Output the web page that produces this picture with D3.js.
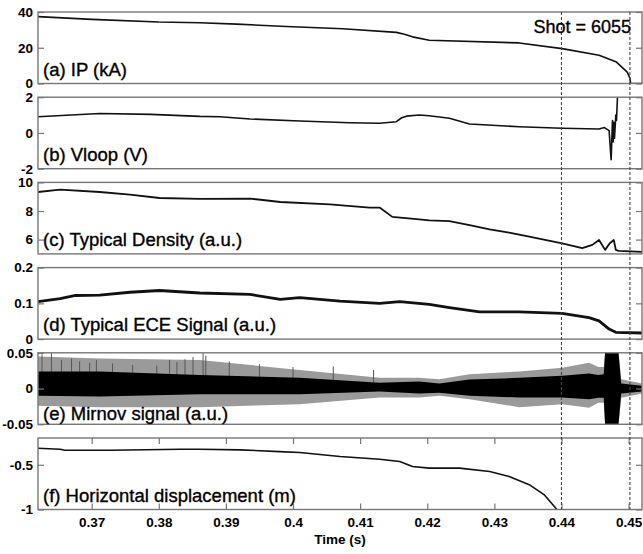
<!DOCTYPE html>
<html>
<head>
<meta charset="utf-8">
<script src="https://cdnjs.cloudflare.com/ajax/libs/d3/7.8.5/d3.min.js"></script>
<style>
  body { margin: 0; background: #fff; }
  svg { display: block; font-family: Arial, "Liberation Sans", sans-serif; }
  .tick text { font-size: 13.5px; font-weight: bold; fill: #000; }
  .tick line { stroke: #777; stroke-width: 1.2; }
  .panel-label { font-size: 18.5px; fill: #000; stroke: #000; stroke-width: 0.35px; }
</style>
</head>
<body>
<div id="chart"></div>
<script>
// time axis
var timeTicks = [0.37, 0.38, 0.39, 0.40, 0.41, 0.42, 0.43, 0.44, 0.45];
var markerTimes = [0.44, 0.4502];

// (a) plasma current, kA
var ipTime = [0.362, 0.370, 0.380, 0.3861, 0.3916, 0.399, 0.4074, 0.4154, 0.4166, 0.4178, 0.4203,
  0.4337, 0.4401, 0.4456, 0.4482, 0.4498, 0.4502, 0.4503, 0.452];
var ipValue = [37.4, 35.9, 34.4, 34.0, 33.2, 31.9, 30.6, 28.6, 27.5, 26.1, 24.2,
  22.7, 19.5, 15.8, 12.0, 6.4, 3.0, 0, 0];

// (b) loop voltage, V
var vloopTime = [0.362, 0.3712, 0.3788, 0.3861, 0.3891, 0.3936, 0.401, 0.4084, 0.4129, 0.4154, 0.4162,
  0.4169, 0.4188, 0.4203, 0.4233, 0.4263, 0.4337, 0.4401, 0.4456, 0.4464, 0.4471, 0.4474, 0.4476,
  0.4477, 0.4478, 0.4479, 0.4481, 0.4482, 0.4484];
var vloopValue = [0.91, 1.09, 1.04, 0.93, 0.91, 0.78, 0.67, 0.57, 0.54, 0.63, 0.85,
  0.94, 1.0, 0.96, 0.82, 0.5, 0.35, 0.26, 0.22, 0.3, 0.13, -1.5, 0.7,
  -0.5, 0.6, -0.3, 1.0, 0.7, 2.5];

// (c) typical density, a.u.
var densTime = [0.362, 0.3653, 0.3712, 0.3757, 0.3801, 0.3861, 0.3936, 0.3981, 0.4055, 0.4114, 0.4129,
  0.4148, 0.4188, 0.4203, 0.4233, 0.4263, 0.4293, 0.4322, 0.4352, 0.4401, 0.4431, 0.4446, 0.4456,
  0.4465, 0.4472, 0.4478, 0.4481, 0.4485, 0.452];
var densValue = [9.33, 9.49, 9.33, 9.15, 8.91, 8.85, 8.87, 8.63, 8.47, 8.24, 8.24,
  7.59, 7.41, 7.35, 7.29, 7.01, 6.71, 6.48, 6.2, 5.74, 5.4, 5.63, 5.97,
  5.28, 5.74, 5.97, 5.28, 5.21, 5.14];

// (d) typical ECE signal, a.u.
var eceTime = [0.362, 0.3653, 0.3676, 0.3712, 0.3757, 0.3801, 0.3861, 0.3936, 0.3981, 0.401, 0.407,
  0.4129, 0.4159, 0.4203, 0.4233, 0.4278, 0.4337, 0.4401, 0.4441, 0.4456, 0.4471, 0.4481, 0.452];
var eceValue = [0.105, 0.113, 0.122, 0.123, 0.131, 0.136, 0.129, 0.125, 0.111, 0.116, 0.106,
  0.1, 0.105, 0.097, 0.088, 0.076, 0.076, 0.072, 0.06, 0.051, 0.028, 0.019, 0.017];

// (e) Mirnov signal envelopes, a.u.
var mirnovTime = [0.362, 0.3712, 0.3861, 0.401, 0.4129, 0.4188, 0.4218, 0.4263, 0.4337, 0.4401,
  0.4441, 0.4455, 0.4463, 0.4465, 0.4485, 0.4489, 0.452];
var mirnovCoreHi = [0.024, 0.024, 0.019, 0.015, 0.008, 0.010, 0.007, 0.0125, 0.015, 0.018,
  0.021, 0.019, 0.02, 0.05, 0.05, 0.007, 0.004];
var mirnovCoreLo = [-0.010, -0.011, -0.008, -0.008, -0.004, -0.007, -0.006, -0.010, -0.0125, -0.0125,
  -0.015, -0.013, -0.013, -0.05, -0.05, -0.007, -0.004];
var mirnovPeakHi = [0.045, 0.042, 0.04, 0.026, 0.015, 0.015, 0.013, 0.02, 0.024, 0.029,
  0.036, 0.03, 0.03, 0.05, 0.05, 0.013, 0.007];
var mirnovPeakLo = [-0.024, -0.026, -0.026, -0.022, -0.0125, -0.0125, -0.010, -0.015, -0.026, -0.022,
  -0.027, -0.02, -0.02, -0.05, -0.05, -0.013, -0.007];
// tallest single spikes: time, peak value
var spikeTime = [0.3626, 0.3640, 0.3655, 0.3670, 0.3682, 0.3697, 0.3707, 0.3731, 0.3761, 0.3797,
  0.3816, 0.3827, 0.3839, 0.3851, 0.3866, 0.3870, 0.3905, 0.3950, 0.4000, 0.4060, 0.4120];
var spikeValue = [0.048, 0.05, 0.04, 0.042, 0.038, 0.036, 0.04, 0.035, 0.033, 0.032,
  0.04, 0.037, 0.041, 0.044, 0.05, 0.046, 0.038, 0.034, 0.03, 0.031, 0.026];

// (f) horizontal displacement, m
var dispTime = [0.362, 0.3653, 0.366, 0.3728, 0.3832, 0.3861, 0.3921, 0.398, 0.401, 0.407, 0.4129,
  0.4159, 0.4178, 0.4203, 0.4248, 0.4293, 0.4322, 0.4352, 0.4374, 0.4391, 0.4393];
var dispValue = [-0.315, -0.326, -0.337, -0.337, -0.326, -0.326, -0.333, -0.352, -0.363, -0.407, -0.437,
  -0.463, -0.519, -0.537, -0.537, -0.574, -0.63, -0.722, -0.833, -0.981, -1.0];

var panelLabels = ["(a) IP (kA)", "(b) Vloop (V)", "(c) Typical Density (a.u.)",
  "(d) Typical ECE Signal (a.u.)", "(e) Mirnov signal (a.u.)", "(f) Horizontal displacement (m)"];
var yDomains = [[0, 40], [-2, 2], [5, 10], [0, 0.2], [-0.05, 0.05], [-1, -0.2]];
var yTicks = [[0, 20, 40], [-2, 0, 2], [6, 8, 10], [0, 0.1, 0.2], [-0.05, 0, 0.05], [-1, -0.5]];

var svgWidth = 643;
var svgHeight = 554;
var left = 38, right = 642;
var panelTop = 12, panelStep = 85.2, panelHeight = 71.5;

var svg = d3.select("#chart")
  .append("svg")
  .attr("width", svgWidth)
  .attr("height", svgHeight);

var x = d3.scaleLinear()
  .domain([0.362, 0.452])
  .range([left, right]);

// line series per panel (e is drawn as envelopes)
var series = [
  { t: ipTime, v: ipValue, w: 1.6 },
  { t: vloopTime, v: vloopValue, w: 1.6 },
  { t: densTime, v: densValue, w: 1.8 },
  { t: eceTime, v: eceValue, w: 2.8 },
  null,
  { t: dispTime, v: dispValue, w: 1.6 }
];

var bottoms = [];

panelLabels.forEach(function(label, i) {
  var top = panelTop + i * panelStep;
  var bottom = top + panelHeight;
  bottoms.push(bottom);

  var y = d3.scaleLinear()
    .domain(yDomains[i])
    .range([bottom, top]);

  var g = svg.append("g");

  // clip traces to the panel box
  g.append("clipPath")
    .attr("id", "clip" + i)
    .append("rect")
    .attr("x", left)
    .attr("y", top)
    .attr("width", right - left)
    .attr("height", panelHeight);

  var traces = g.append("g").attr("clip-path", "url(#clip" + i + ")");

  if (series[i]) {
    var s = series[i];
    var line = d3.line()
      .x(function(d, k) { return x(s.t[k]); })
      .y(function(d, k) { return y(s.v[k]); });
    traces.append("path")
      .datum(s.v)
      .attr("d", line)
      .attr("fill", "none")
      .attr("stroke", "#111")
      .attr("stroke-width", s.w)
      .attr("stroke-linejoin", "round");
  } else {
    var peak = d3.area()
      .x(function(d, k) { return x(mirnovTime[k]); })
      .y0(function(d, k) { return y(mirnovPeakLo[k]); })
      .y1(function(d, k) { return y(mirnovPeakHi[k]); });
    var core = d3.area()
      .x(function(d, k) { return x(mirnovTime[k]); })
      .y0(function(d, k) { return y(mirnovCoreLo[k]); })
      .y1(function(d, k) { return y(mirnovCoreHi[k]); });
    traces.append("path")
      .datum(mirnovTime)
      .attr("d", peak)
      .attr("fill", "#9a9a9a");
    traces.selectAll(".spike")
      .data(spikeTime)
      .enter()
      .append("line")
      .attr("class", "spike")
      .attr("x1", d => x(d))
      .attr("x2", d => x(d))
      .attr("y1", y(0))
      .attr("y2", (d, k) => y(spikeValue[k]))
      .attr("stroke", "#555")
      .attr("stroke-width", 1);
    traces.append("path")
      .datum(mirnovTime)
      .attr("d", core)
      .attr("fill", "#000");
  }

  // box
  g.append("rect")
    .attr("x", left)
    .attr("y", top)
    .attr("width", right - left)
    .attr("height", panelHeight)
    .attr("fill", "none")
    .attr("stroke", "#777")
    .attr("stroke-width", 1.4);

  // left ticks with labels, right ticks without
  var leftAxis = d3.axisLeft(y)
    .tickValues(yTicks[i])
    .tickSizeInner(-6)
    .tickSizeOuter(0)
    .tickPadding(5)
    .tickFormat(function(d) { return String(d); });
  g.append("g")
    .attr("transform", `translate(${left}, 0)`)
    .call(leftAxis)
    .call(function(a) { a.select(".domain").remove(); });

  var rightAxis = d3.axisRight(y)
    .tickValues(yTicks[i])
    .tickSizeInner(-6)
    .tickSizeOuter(0)
    .tickFormat("");
  g.append("g")
    .attr("transform", `translate(${right}, 0)`)
    .call(rightAxis)
    .call(function(a) { a.select(".domain").remove(); });

  // panel label
  g.append("text")
    .attr("class", "panel-label")
    .attr("x", 43)
    .attr("y", i === 4 ? bottom - 4 : bottom - 8)
    .text(label);

  // time axis only on the last panel
  if (i === 5) {
    var bottomAxis = d3.axisBottom(x)
      .tickValues(timeTicks)
      .tickSizeInner(-6)
      .tickSizeOuter(0)
      .tickPadding(8)
      .tickFormat(function(d) { return String(d); });
    g.append("g")
      .attr("transform", `translate(0, ${bottom})`)
      .call(bottomAxis)
      .call(function(a) { a.select(".domain").remove(); });

    var topAxis = d3.axisTop(x)
      .tickValues(timeTicks)
      .tickSizeInner(-6)
      .tickSizeOuter(0)
      .tickFormat("");
    g.append("g")
      .attr("transform", `translate(0, ${top})`)
      .call(topAxis)
      .call(function(a) { a.select(".domain").remove(); });
  }
});

// dashed time markers across all panels
svg.selectAll(".marker")
  .data(markerTimes)
  .enter()
  .append("line")
  .attr("class", "marker")
  .attr("x1", d => x(d))
  .attr("x2", d => x(d))
  .attr("y1", panelTop)
  .attr("y2", bottoms[5])
  .attr("stroke", "#444")
  .attr("stroke-width", 1.1)
  .attr("stroke-dasharray", "3,2");

svg.append("text")
  .attr("x", 631)
  .attr("y", 33)
  .attr("text-anchor", "end")
  .attr("class", "panel-label")
  .style("font-size", "18px")
  .text("Shot = 6055");

svg.append("text")
  .attr("x", (left + right) / 2)
  .attr("y", 544)
  .attr("text-anchor", "middle")
  .style("font-size", "13.5px")
  .style("font-weight", "bold")
  .text("Time (s)");
</script>
</body>
</html>
